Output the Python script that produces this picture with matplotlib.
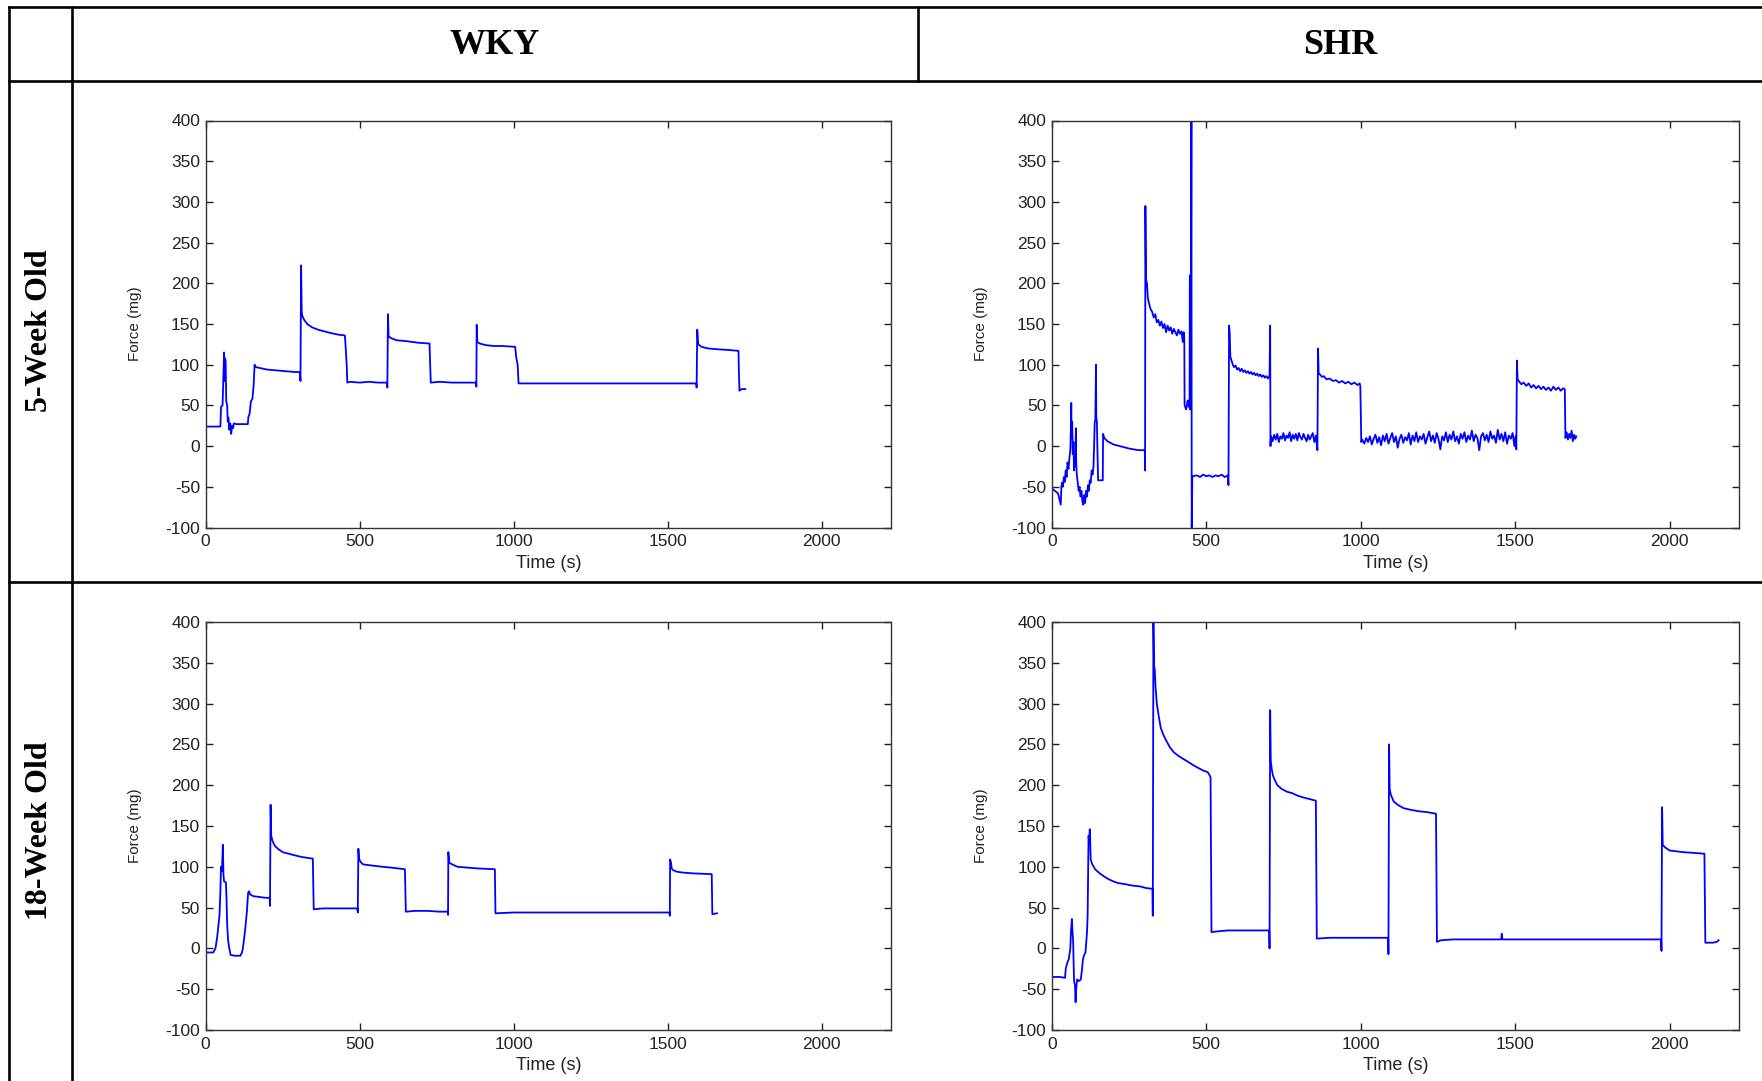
import numpy as np
from matplotlib import pyplot as plt
from matplotlib.lines import Line2D

plt.rcParams['font.family'] = ['Liberation Sans', 'DejaVu Sans']
plt.rcParams['axes.unicode_minus'] = False

# (time s, force mg)
wky5 = [(0, 40), (1, 24), (48, 24), (50, 48), (55, 50), (57, 75), (60, 115), (62, 80), (63, 108),
        (65, 105), (67, 55), (70, 50), (72, 30), (74, 35), (77, 20), (80, 28), (83, 15), (86, 25),
        (89, 22), (92, 28), (100, 27), (120, 27), (137, 27), (139, 36), (143, 40), (147, 55),
        (152, 58), (156, 75), (159, 100), (163, 97), (175, 96), (200, 94), (230, 93), (260, 92),
        (290, 91), (306, 91), (308, 80), (310, 222), (312, 165), (314, 160), (320, 155), (330, 150),
        (345, 146), (365, 143), (385, 141), (405, 139), (430, 137), (452, 136), (455, 120),
        (458, 100), (460, 78), (470, 79), (500, 78), (530, 79), (560, 78), (589, 78), (590, 72),
        (592, 162), (594, 135), (600, 133), (620, 130), (650, 129), (690, 127), (727, 126),
        (729, 100), (731, 78), (760, 79), (800, 78), (850, 78), (878, 78), (879, 73), (880, 149),
        (882, 128), (890, 126), (910, 124), (935, 123), (960, 123), (1005, 122), (1008, 110),
        (1013, 100), (1016, 77), (1100, 77), (1200, 77), (1300, 77), (1400, 77), (1500, 77),
        (1593, 77), (1594, 72), (1596, 143), (1599, 125), (1610, 122), (1630, 120), (1660, 119),
        (1700, 118), (1730, 117), (1731, 95), (1733, 68), (1740, 70), (1752, 70)]

shr5 = [(0, -52), (10, -55), (20, -58), (29, -72), (31, -50),
        (33, -45), (36, -50), (39, -38), (42, -44), (45, -30), (48, -38), (51, -20), (54, -28),
        (57, -15), (60, -5), (62, 25), (63, 53), (64, 20), (66, 30), (68, -10), (70, 5), (72, -30),
        (74, -15), (76, -25), (78, 22), (79, -20), (81, -35),
        (84, -45), (87, -55), (90, -50), (93, -62), (96, -55), (99, -68), (102, -72), (105, -60),
        (108, -70), (111, -55), (114, -62), (117, -48), (120, -55), (123, -42), (126, -45),
        (129, -30), (132, -35), (135, -25), (137, 0), (139, 30), (141, 32), (143, 100), (144, 35),
        (146, 30), (148, -10), (150, -42), (165, -42), (166, 15), (170, 10), (180, 6), (200, 2),
        (220, 0), (250, -3), (280, -5), (301, -5), (302, -30), (303, 295), (305, 205), (308, 200),
        (311, 182), (315, 175), (320, 168), (325, 165), (330, 158), (335, 162), (340, 152),
        (345, 155), (350, 148), (355, 153), (360, 145), (365, 150), (370, 140), (375, 148),
        (380, 142), (385, 146), (390, 138), (395, 144), (400, 140), (405, 136), (410, 143),
        (415, 138), (420, 141), (424, 128), (427, 140), (429, 132), (430, 50), (435, 45),
        (440, 56), (444, 48), (446, 58), (447, 210), (448, 45), (450, 52), (452, 400),
        (453, -100), (455, -37), (470, -36), (480, -38), (490, -35), (500, -37), (510, -36),
        (520, -38), (530, -36), (540, -37), (550, -35), (560, -38), (570, -36), (572, -48),
        (574, 148), (576, 140), (578, 110), (582, 105), (586, 100), (590, 97), (595, 99),
        (600, 94), (605, 96), (610, 92), (615, 95), (620, 91), (625, 93), (630, 90), (635, 92),
        (640, 89), (645, 91), (650, 88), (655, 90), (660, 87), (665, 89), (670, 86), (675, 88),
        (680, 85), (685, 87), (690, 84), (695, 86), (700, 83), (705, 86), (707, 148), (708, 0),
        (710, 12), (715, 6), (720, 14), (725, 8), (730, 15), (735, 5), (740, 12), (745, 9),
        (750, 16), (755, 7), (760, 13), (765, 10), (770, 17), (775, 6), (780, 14), (785, 9),
        (790, 15), (795, 7), (800, 16), (805, 11), (810, 8), (815, 15), (820, 10), (825, 6),
        (830, 14), (835, 8), (840, 12), (845, 16), (850, 5), (855, 13), (860, -5), (862, 120),
        (864, 90), (868, 88), (875, 85), (880, 86), (890, 82), (900, 83), (910, 80), (920, 81),
        (930, 78), (940, 80), (950, 77), (960, 79), (970, 76), (980, 78), (990, 75), (997, 77),
        (999, 73), (1002, 5),
        (1005, 8), (1012, 3), (1018, 10), (1024, 5), (1030, 12), (1036, 2), (1042, 9), (1048, 14),
        (1054, 4), (1060, 11), (1066, 1), (1072, 13), (1078, 6), (1084, 15), (1090, 3), (1096, 10),
        (1102, 16), (1108, 5), (1114, 12), (1120, -2), (1126, 9), (1132, 14), (1138, 4),
        (1144, 11), (1150, 7), (1156, 16), (1162, 2), (1168, 13), (1174, 6), (1180, 17),
        (1186, 5), (1192, 12), (1198, 8), (1204, 15), (1210, 3), (1216, 11), (1222, 18),
        (1228, 6), (1234, 13), (1240, 4), (1246, 16), (1252, 9), (1258, -4), (1264, 12),
        (1270, 7), (1276, 17), (1282, 5), (1288, 14), (1294, 8), (1300, 18), (1306, 6),
        (1312, 12), (1318, 3), (1324, 15), (1330, 9), (1336, 17), (1342, 5), (1348, 13),
        (1354, 8), (1360, 19), (1366, 6), (1372, 14), (1378, 10), (1384, -5), (1390, 12),
        (1396, 16), (1402, 7), (1408, 14), (1414, 5), (1420, 18), (1426, 9), (1432, 13),
        (1438, 4), (1444, 20), (1450, 8), (1456, 15), (1462, 6), (1468, 17), (1474, 3),
        (1480, 13), (1486, 9), (1492, 16), (1498, 0), (1502, 12), (1504, -4), (1506, 105),
        (1508, 82), (1512, 80), (1520, 76), (1528, 78), (1536, 74), (1544, 77), (1552, 72),
        (1560, 75), (1568, 71), (1576, 74), (1584, 70), (1592, 73), (1600, 69), (1608, 72),
        (1616, 68), (1624, 73), (1632, 69), (1640, 72), (1648, 68), (1656, 71), (1661, 70),
        (1663, 10), (1667, 17), (1671, 8), (1675, 15), (1679, 10), (1683, 19), (1687, 6),
        (1691, 14), (1695, 9), (1698, 12)]

wky18 = [(0, 2), (2, -5), (25, -5), (32, 0), (38, 15), (42, 30), (45, 40), (48, 70), (50, 100),
         (53, 95), (56, 127), (58, 90), (60, 82), (66, 81), (68, 60), (70, 29), (73, 10), (76, 2),
         (81, -8), (95, -9), (113, -9), (118, -5), (121, 0), (125, 12), (129, 25), (134, 45),
         (138, 68), (141, 70), (145, 66), (155, 64), (175, 63), (195, 62), (208, 62), (209, 52),
         (211, 176), (213, 138), (217, 132), (224, 126), (235, 122), (250, 118), (270, 116),
         (290, 114), (312, 112), (330, 111), (348, 110), (351, 48), (380, 49), (420, 49),
         (460, 49), (493, 49), (494, 44), (496, 122), (498, 110), (503, 106), (511, 103),
         (530, 102), (552, 101), (575, 100), (602, 99), (625, 98), (647, 97), (650, 45),
         (680, 46), (720, 46), (760, 45), (786, 45), (787, 41), (788, 118), (791, 105),
         (800, 103), (818, 100), (850, 99), (884, 98), (939, 97), (941, 43), (1000, 44),
         (1100, 44), (1200, 44), (1300, 44), (1400, 44), (1506, 44), (1507, 40), (1508, 109),
         (1511, 105), (1513, 98), (1517, 96), (1530, 94), (1547, 93), (1580, 92), (1643, 91),
         (1645, 42), (1660, 43)]

shr18 = [(0, -35), (25, -35), (43, -36), (45, -25), (50, -18), (55, -13), (58, -5), (60, 0),
         (62, 20), (65, 36), (67, 20), (69, 10), (72, -40), (75, -45), (77, -66), (79, -50),
         (82, -38), (88, -40), (94, -38), (98, -25), (101, -13), (105, -8), (109, -5), (112, 10),
         (114, 20), (116, 40), (119, 138), (121, 130), (123, 146), (126, 109), (130, 104),
         (140, 97), (155, 92), (170, 88), (183, 85), (200, 82), (215, 80), (234, 79), (260, 77),
         (285, 76), (305, 74), (326, 73), (327, 40), (329, 400), (331, 345), (333, 343),
         (336, 320), (340, 300), (346, 285), (353, 270), (361, 262), (370, 255), (383, 246),
         (396, 240), (410, 236), (422, 233), (440, 229), (456, 225), (475, 221), (490, 218),
         (505, 216), (514, 210), (517, 20), (540, 21), (570, 22), (600, 22), (640, 22),
         (680, 22), (704, 22), (705, 0), (707, 292), (709, 230), (712, 220), (716, 212),
         (720, 208), (730, 200), (746, 195), (762, 192), (780, 190), (797, 187), (814, 185),
         (835, 183), (855, 181), (858, 12), (900, 13), (960, 13), (1030, 13), (1089, 13),
         (1090, -7), (1092, 250), (1094, 195), (1098, 188), (1107, 180), (1120, 176),
         (1138, 172), (1160, 170), (1189, 168), (1215, 167), (1244, 165), (1247, 8), (1260, 10),
         (1300, 11), (1380, 11), (1455, 11), (1457, 18), (1459, 11), (1550, 11), (1650, 11),
         (1750, 11), (1850, 11), (1973, 11), (1974, -3), (1976, 173), (1978, 127), (1985, 124),
         (2000, 120), (2043, 118), (2080, 117), (2113, 116), (2116, 7), (2140, 7), (2153, 8),
         (2159, 10)]

col_titles = ["WKY", "SHR"]
row_titles = ["5-Week Old", "18-Week Old"]
x_ticks = [0, 500, 1000, 1500, 2000]
y_ticks = [-100, -50, 0, 50, 100, 150, 200, 250, 300, 350, 400]

W, H = 1762, 1081
fig = plt.figure(figsize=(W / 100, H / 100), dpi=100)


def px_line(x0, y0, x1, y1):
    fig.add_artist(Line2D([x0 / W, x1 / W], [1 - y0 / H, 1 - y1 / H],
                          transform=fig.transFigure, color='black', lw=1.9))


# table grid
px_line(9, 7, W, 7)
px_line(9, 81, W, 81)
px_line(9, 582, W, 582)
px_line(9, 7, 9, H)
px_line(72, 7, 72, H)
px_line(918, 7, 918, 81)

fig.text(495 / W, 1 - 45 / H, col_titles[0], ha='center', va='center',
         family='Liberation Serif', weight='bold', fontsize=26)
fig.text(1340 / W, 1 - 45 / H, col_titles[1], ha='center', va='center',
         family='Liberation Serif', weight='bold', fontsize=26)
fig.text(40 / W, 1 - 331 / H, row_titles[0], ha='center', va='center', rotation=90,
         family='Liberation Serif', weight='bold', fontsize=23)
fig.text(40 / W, 1 - 831 / H, row_titles[1], ha='center', va='center', rotation=90,
         family='Liberation Serif', weight='bold', fontsize=23)

panels = [(wky5, 205.6, 891.0, 120.5, 527.5),
          (shr5, 1051.8, 1739.0, 120.5, 527.5),
          (wky18, 205.6, 891.0, 622.0, 1030.0),
          (shr18, 1051.8, 1739.0, 622.0, 1030.0)]

for data, x0, x1, y0, y1 in panels:
    ax = fig.add_axes([x0 / W, 1 - y1 / H, (x1 - x0) / W, (y1 - y0) / H])
    t, f = np.array(data, dtype=float).T
    ax.plot(t, f, color='#0000ff', lw=1.3)
    ax.set_xlim(0, 2225)
    ax.set_ylim(-100, 400)
    ax.set_xticks(x_ticks)
    ax.set_yticks(y_ticks)
    ax.tick_params(direction='in', length=5, width=1, top=True, right=True,
                   labelsize=12.5, colors='#222222', pad=4)
    ax.tick_params(axis='x', pad=5)
    for s in ax.spines.values():
        s.set_linewidth(1.0)
        s.set_color('#333333')
    ax.set_xlabel("Time (s)", fontsize=13, color='#222222')
    ax.set_ylabel("Force (mg)", fontsize=11, color='#222222')
    ax.xaxis.set_label_coords(0.5, -27.0 / (y1 - y0))
    ax.yaxis.set_label_coords((142 - 205.6) / (x1 - x0), 0.5)

fig.savefig("out.png", dpi=100)
